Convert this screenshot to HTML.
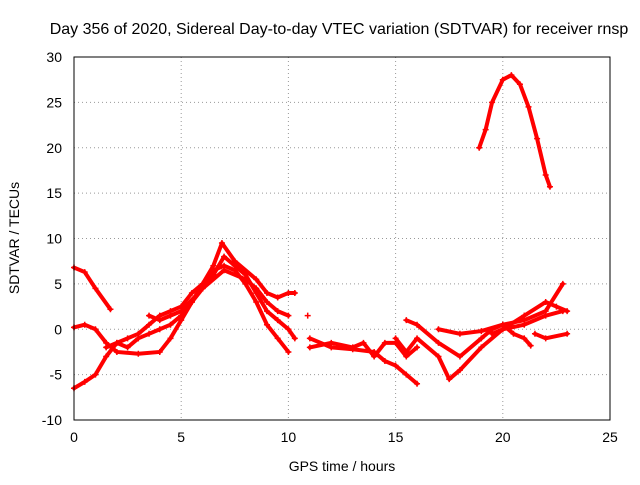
<!DOCTYPE html>
<html><head><meta charset="utf-8"><style>
body{margin:0;background:#fff}
svg text{font-family:"Liberation Sans",sans-serif;font-size:14px;fill:#000}
</style></head><body>
<svg id="c" width="640" height="480">
<rect width="640" height="480" fill="#fff"/>
<text x="339" y="34" text-anchor="middle" style="font-size:16px">Day 356 of 2020, Sidereal Day-to-day VTEC variation (SDTVAR) for receiver rnsp</text>
<text x="342" y="471" text-anchor="middle">GPS time / hours</text>
<text transform="translate(19,238) rotate(-90)" text-anchor="middle">SDTVAR / TECUs</text>
<g id="grid"></g><g id="ticks"></g><g id="series"></g>
<rect x="74" y="57" width="536" height="363" fill="none" stroke="#000"/>
</svg>
<script>
const xTicks=[0,5,10,15,20,25];
const yTicks=[-10,-5,0,5,10,15,20,25,30];
const trackA=[[0,6.8],[0.5,6.3],[1,4.5],[1.7,2.2]];
const trackB=[[0,0.2],[0.5,0.5],[1,0],[1.5,-1.5],[2,-2.5],[3,-2.7],[4,-2.5],[4.5,-1],[5,1],[5.5,3],[6,5],[6.5,7],[6.9,9.5],[7.5,7.5],[8.5,5.5],[9,4],[9.5,3.5],[10,4],[10.3,4]];
const trackC=[[0,-6.5],[0.5,-5.8],[1,-5],[1.5,-3],[2,-1.5],[2.5,-1],[3,-0.5],[3.5,0.5],[4,1.5],[4.5,2],[5,2.5],[5.5,4],[6,5],[6.5,6.5],[7,7],[7.5,6.5],[8,5],[8.5,3],[9,0.5],[9.5,-1],[10,-2.5]];
const trackD=[[1.5,-2],[2,-1.5],[2.5,-2],[3,-1],[3.5,-0.5],[4,0],[4.5,0.5],[5,1.5],[5.5,3],[6,4.5],[6.5,6],[7,8],[7.5,7],[8,6],[8.5,4],[9,2],[9.5,1],[10,0],[10.3,-1]];
const trackE=[[3.5,1.5],[4,1],[4.5,1.5],[5,2],[6,4.5],[7,6.5],[8,5.5],[8.5,4.5],[9,3],[9.5,2],[10,1.5]];
const trackF=[[11,-1],[12,-2],[13,-2.2],[14,-2.5],[14.5,-3.5],[15,-4],[15.5,-5],[16,-6]];
const trackG=[[11,-2],[12,-1.5],[13,-2],[13.5,-1.5],[14,-3],[14.5,-1.5],[15,-1.5],[15.5,-3],[16,-2]];
const trackH=[[15.5,1],[16,0.5],[17,-1.5],[18,-3],[19,-1],[19.5,0],[20,0.5],[21,1],[22,2],[22.8,5]];
const trackI=[[15,-1],[15.5,-2.5],[16,-1],[17,-3],[17.5,-5.5],[18,-4.5],[19,-2],[20,0],[21,0.5],[22,1.5],[22.8,2]];
const trackJ=[[17,0],[18,-0.5],[19,-0.2],[20,0.5],[20.5,-0.5],[21,-1],[21.3,-1.8]];
const trackK=[[19.5,-0.5],[20,0],[21,1.5],[22,3],[22.5,2.5],[23,2]];
const trackL=[[21.5,-0.5],[22,-1],[23,-0.5]];
const trackM=[[18.9,20],[19.2,22],[19.5,25],[20,27.5],[20.4,28],[20.8,27],[21.2,24.5],[21.6,21],[22,17],[22.2,15.7]];
const trackN=[[10.9,1.5]];
const tracks=[trackA,trackB,trackC,trackD,trackE,trackF,trackG,trackH,trackI,trackJ,trackK,trackL,trackM,trackN];
const X=v=>74+v*536/25, Y=v=>420-(v+10)*363/40;
const ns="http://www.w3.org/2000/svg";
const grid=document.getElementById('grid'),tk=document.getElementById('ticks'),sg=document.getElementById('series');
function mk(tag,at,p){const e=document.createElementNS(ns,tag);for(const k in at)e.setAttribute(k,at[k]);p.appendChild(e);return e;}
xTicks.forEach(t=>{
 const gl=mk('line',{x1:X(t),x2:X(t),y1:57,y2:420,stroke:'#999','stroke-dasharray':'1,3'},grid);
 
 
 const tx=mk('text',{x:X(t),y:442,'text-anchor':'middle'},tk);tx.textContent=t;
 
 
});
yTicks.forEach(t=>{
 const gl=mk('line',{x1:74,x2:610,y1:Y(t),y2:Y(t),stroke:'#999','stroke-dasharray':'1,3'},grid);
 
 
 const tx=mk('text',{x:62,y:Y(t)+5,'text-anchor':'end'},tk);tx.textContent=t;
 
 
});
tracks.forEach(tr=>{
 if(tr.length>1){
  const pl=mk('polyline',{points:tr.map(p=>X(p[0])+','+Y(p[1])).join(' '),fill:'none',stroke:'#f00','stroke-width':4,'stroke-linejoin':'round','stroke-linecap':'round'},sg);
  
  
 }
 tr.forEach(p=>{
  const m=mk('path',{d:`M${X(p[0])-3},${Y(p[1])}h6M${X(p[0])},${Y(p[1])-3}v6`,stroke:'#f00','stroke-width':1.5},sg);
  
  
 });
});
</script>
</body></html>
